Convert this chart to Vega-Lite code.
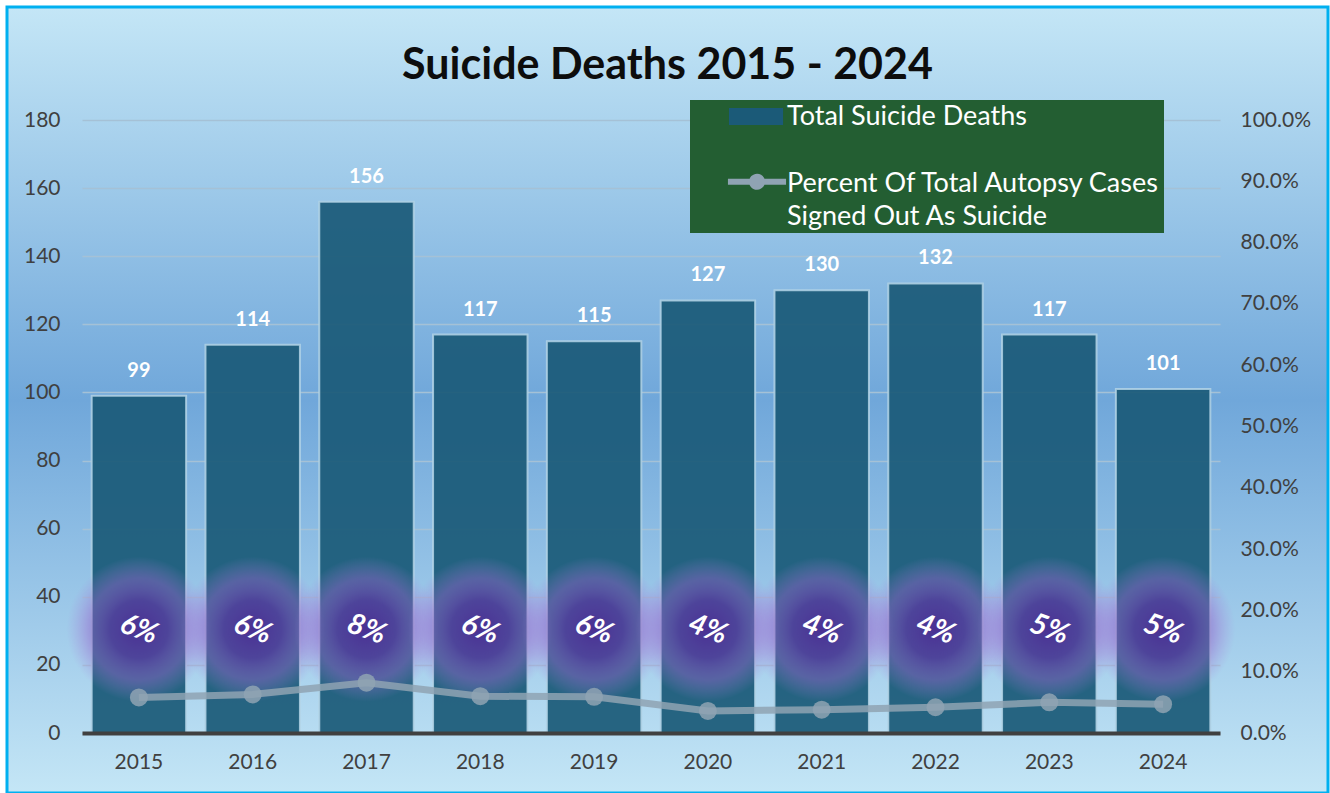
{
  "$schema": "https://vega.github.io/schema/vega-lite/v6.json",
  "width": 1321,
  "height": 786,
  "autosize": {"type": "none"},
  "padding": {"left": 7, "top": 7, "right": 2, "bottom": 0},
  "background": "white",
  "title": {"text": "Suicide Deaths 2015 - 2024", "font": "Lato", "fontSize": 43, "fontWeight": "bold", "color": "#0d0d0d", "anchor": "middle", "baseline": "alphabetic", "offset": -115},
  "config": {
    "view": {
      "fill": {"gradient": "linear", "x1": 0, "y1": 0, "x2": 0, "y2": 1, "stops": [{"offset": 0, "color": "#c4e6f6"}, {"offset": 0.5, "color": "#70a7da"}, {"offset": 1, "color": "#c4e6f6"}]},
      "stroke": "#00b0f0",
      "strokeWidth": 3
    },
    "axis": {"labelFont": "Lato", "labelFontSize": 21, "labelColor": "#404040", "title": null},
    "style": {"guide-label": {"lineHeight": 33}}
  },
  "data": {"values": [
    {"year": "2015", "deaths": 99, "pct": 0.058},
    {"year": "2016", "deaths": 114, "pct": 0.063},
    {"year": "2017", "deaths": 156, "pct": 0.082},
    {"year": "2018", "deaths": 117, "pct": 0.060},
    {"year": "2019", "deaths": 115, "pct": 0.059},
    {"year": "2020", "deaths": 127, "pct": 0.036},
    {"year": "2021", "deaths": 130, "pct": 0.038},
    {"year": "2022", "deaths": 132, "pct": 0.042},
    {"year": "2023", "deaths": 117, "pct": 0.050},
    {"year": "2024", "deaths": 101, "pct": 0.047}
  ]},
  "encoding": {
    "x": {"field": "year", "type": "ordinal",
      "scale": {"range": [75, 1213], "paddingInner": 0.17, "paddingOuter": 0.085},
      "axis": {"orient": "bottom", "offset": -60, "ticks": false, "tickSize": 0, "labelPadding": 18, "labelAngle": 0, "domainColor": "#404040", "domainWidth": 4, "grid": false, "title": null, "zindex": 1}}
  },
  "layer": [
    {
      "layer": [
        {
          "mark": {"type": "bar", "fillOpacity": 0.93, "stroke": "#b3d3e6", "strokeWidth": 2, "strokeOpacity": 0.85},
          "encoding": {
            "y": {"field": "deaths", "type": "quantitative",
              "scale": {"domain": [0, 180], "range": [726, 113], "nice": false},
              "axis": {"orient": "left", "offset": -75, "ticks": false, "tickSize": 0, "labelPadding": 22, "domain": false, "grid": true, "gridColor": "#a5c1d6", "gridWidth": 1.5, "values": [0, 20, 40, 60, 80, 100, 120, 140, 160, 180], "title": null}},
            "color": {"datum": "Total Suicide Deaths", "type": "nominal",
              "scale": {"domain": ["Total Suicide Deaths", "Percent Of Total Autopsy Cases Signed Out As Suicide"], "range": ["#1b5a78", "#8fa3b3"]},
              "legend": {
                "orient": "none", "legendX": 683, "legendY": 93, "title": null,
                "fillColor": "#235e32", "padding": 3, "symbolOffset": 36, "symbolSize": 676, "labelOffset": 31, "rowPadding": 39,
                "symbolType": {"expr": "datum.value === 'Total Suicide Deaths' ? 'M-1.04,-0.65H3.12V0.65H-1.04Z' : 'M-1.12,-0.98H3.35V-0.52H-1.12ZM0.5,-0.75A0.62,0.62,0,1,1,1.74,-0.75A0.62,0.62,0,1,1,0.5,-0.75Z'"},
                "symbolStrokeWidth": 0,
                "symbolOpacity": 1,
                "labelBaseline": {"expr": "datum.value === 'Total Suicide Deaths' ? 'middle' : 'alphabetic'"},
                "labelFont": "Lato", "labelFontSize": 27, "labelColor": "white", "labelLimit": 800,
                "labelExpr": "datum.value === 'Total Suicide Deaths' ? datum.value : ['Percent Of Total Autopsy Cases', 'Signed Out As Suicide']"
              }}
          }
        },
        {
          "mark": {"type": "text", "font": "Lato", "fontSize": 20, "fontWeight": "bold", "color": "white", "baseline": "alphabetic", "dy": -19},
          "encoding": {
            "y": {"field": "deaths", "type": "quantitative"},
            "text": {"field": "deaths", "type": "quantitative"}
          }
        },
        {
          "mark": {"type": "point", "filled": true, "size": 21000, "opacity": 1, "strokeWidth": 0,
            "fill": {"gradient": "radial", "x1": 0.5, "y1": 0.5, "r1": 0, "x2": 0.5, "y2": 0.5, "r2": 0.5,
              "stops": [
                {"offset": 0, "color": "rgba(80,40,150,0.85)"},
                {"offset": 0.4, "color": "rgba(95,55,165,0.7)"},
                {"offset": 0.7, "color": "rgba(150,100,205,0.45)"},
                {"offset": 1, "color": "rgba(170,130,220,0)"}
              ]}},
          "encoding": {"y": {"datum": 30.5, "type": "quantitative"}}
        },
        {
          "mark": {"type": "text", "font": "Lato", "fontSize": 29, "fontWeight": "bold", "fontStyle": "italic", "color": "white", "angle": 20, "align": "center", "baseline": "middle"},
          "encoding": {
            "y": {"datum": 30.5, "type": "quantitative"},
            "text": {"field": "pct", "type": "quantitative", "format": ".0%"}
          }
        }
      ]
    },
    {
      "mark": {"type": "line", "strokeWidth": 7, "opacity": 0.85, "point": {"filled": true, "size": 324, "opacity": 0.85}},
      "encoding": {
        "y": {"field": "pct", "type": "quantitative",
          "scale": {"domain": [0, 1], "range": [726, 113], "nice": false},
          "axis": {"orient": "right", "offset": -108, "format": ".1%", "values": [0, 0.1, 0.2, 0.3, 0.4, 0.5, 0.6, 0.7, 0.8, 0.9, 1], "grid": false, "domain": false, "ticks": false, "tickSize": 0, "labelPadding": 20, "title": null}},
        "color": {"datum": "Percent Of Total Autopsy Cases Signed Out As Suicide", "type": "nominal"}
      }
    }
  ],
  "resolve": {"scale": {"y": "independent"}}
}
